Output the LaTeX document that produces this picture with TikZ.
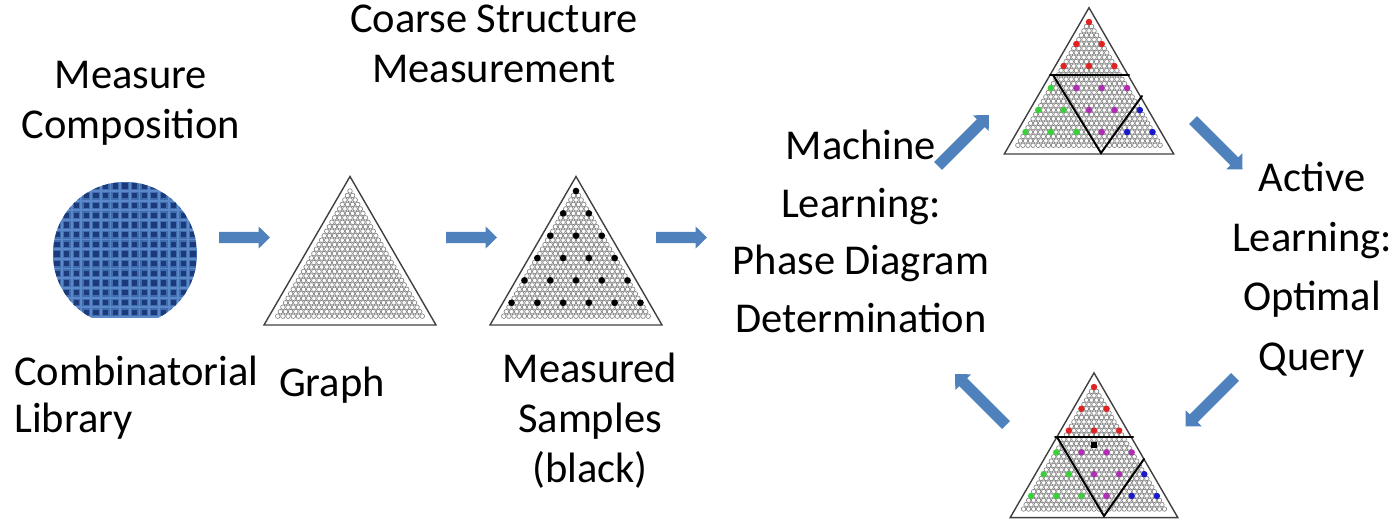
\documentclass[tikz,border=0pt]{standalone}
\usepackage{fontspec}
\setmainfont{Carlito}
\definecolor{arrowblue}{HTML}{4F81BD}
\definecolor{waferbg}{HTML}{5A88C8}
\definecolor{wafercell}{HTML}{1C3A7A}
\definecolor{waferedge}{HTML}{3F6DB0}
\definecolor{phred}{HTML}{E02424}
\definecolor{phgreen}{HTML}{3CCF3C}
\definecolor{phmag}{HTML}{B02EB4}
\definecolor{phblue}{HTML}{1A1ACC}
\tikzset{
  caption/.style={font=\fontsize{42.5}{50}\selectfont, inner sep=0pt, align=center, anchor=base},
  outline/.style={draw=black!75, line width=1.4pt, line join=miter},
  site/.style={draw=black!50, line width=0.65pt},
  boundary/.style={draw=black, line width=2pt, line cap=round},
  cell/.style={fill=wafercell, draw=waferedge, line width=1.3pt},
  % ternary composition lattice: 29 rows of sample sites inside a triangle
  pics/lattice/.style={code={
    \draw[outline] (0,-14.5) -- (86,134) -- (-86,134) -- cycle;
    \foreach \i in {0,...,28}{
      \foreach \j in {0,...,\i}{
        \draw[site] ({(\j-\i/2)*5.16},{\i*4.47}) circle[radius=2.3pt];
      }
    }
  }},
  % filled block arrow of a given length, pointing along +x
  pics/blockarrow/.style={code={
    \fill[arrowblue] (0,5.6) -- ({#1-11.5},5.6) -- ({#1-11.5},11.2) -- (#1,0)
      -- ({#1-11.5},-11.2) -- ({#1-11.5},-5.6) -- (0,-5.6) -- cycle;
  }},
}
% measured site at lattice row 5m, column 5k
\newcommand\msite[3]{\fill[#3] ({25.8*#2-12.9*#1},{22.35*#1}) circle[radius=3.3pt];}
\begin{document}
\begin{tikzpicture}[x=1pt,y=-1pt]
\useasboundingbox (0,0) rectangle (1395,519);

% combinatorial library wafer
\begin{scope}
  \clip (0,0) rectangle (1395,317);
  \clip (125,254) circle[radius=72pt];
  \fill[waferbg] (40,170) rectangle (210,330);
  \foreach \a in {-8,...,8}{
    \foreach \b in {-8,...,8}{
      \filldraw[cell] ({125+\a*9.7},{254+\b*9.7}) +(-3.3,-3.3) rectangle +(3.3,3.3);
    }
  }
\end{scope}
% captions are anchored at the baseline of their last line
\node[caption] (measure) at (131,138) {Measure\\Composition};
\node[caption, align=left, anchor=base west, font=\fontsize{42.5}{47}\selectfont] (library) at (14,432) {Combinatorial\\Library};

% empty composition graph
\pic (graph) at (350,191) {lattice};
\node[caption] (graphlbl) at (332,396) {Graph};

% coarse measurement
\pic (coarse) at (576,191) {lattice};
\begin{scope}[shift={(576,191)}]
  \foreach \m in {0,...,5}{
    \foreach \k in {0,...,\m}{
      \msite{\m}{\k}{black}
    }
  }
\end{scope}
\node[caption] (coarselbl) at (494,82) {Coarse Structure\\Measurement};
\node[caption] (measured) at (590,482) {Measured\\Samples\\(black)};

% machine learning phase map
\pic[scale=0.985] (phase) at (1089,22) {lattice};
\begin{scope}[shift={(1089,22)}, scale=0.985]
  \foreach \m/\k/\c in {0/0/phred,1/0/phred,1/1/phred,2/0/phred,2/1/phred,2/2/phred,
      3/0/phgreen,3/1/phmag,3/2/phmag,3/3/phmag,
      4/0/phgreen,4/1/phgreen,4/2/phmag,4/3/phmag,4/4/phblue,
      5/0/phgreen,5/1/phgreen,5/2/phgreen,5/3/phmag,5/4/phblue,5/5/phblue}{
    \msite{\m}{\k}{\c}
  }
\end{scope}
\draw[boundary] (1050,75) -- (1129,75);
\draw[boundary] (1053,75) -- (1101,153) -- (1142,96);
\node[caption, font=\fontsize{42.5}{57.5}\selectfont] (mllbl) at (861,332) {Machine\\Learning:\\Phase Diagram\\Determination};

% active learning query
\pic[scale=0.975] (query) at (1094,387) {lattice};
\begin{scope}[shift={(1094,387)}, scale=0.975]
  \foreach \m/\k/\c in {0/0/phred,1/0/phred,1/1/phred,2/0/phred,2/1/phred,2/2/phred,
      3/0/phgreen,3/1/phmag,3/2/phmag,3/3/phmag,
      4/0/phgreen,4/1/phgreen,4/2/phmag,4/3/phmag,4/4/phblue,
      5/0/phgreen,5/1/phgreen,5/2/phgreen,5/3/phmag,5/4/phblue,5/5/phblue}{
    \msite{\m}{\k}{\c}
  }
\end{scope}
\fill[black] (1091,442) rectangle (1097,448);
\draw[boundary] (1055,437) -- (1133,437);
\draw[boundary] (1057,437) -- (1104,516) -- (1144,459);
\node[caption, font=\fontsize{42.5}{59.5}\selectfont] (allbl) at (1312,370) {Active\\Learning:\\Optimal\\Query};

% process arrows
\pic at (219,237.5) {blockarrow=51};
\pic at (446,237.5) {blockarrow=51};
\pic at (656,237.5) {blockarrow=51};
\pic[rotate=45] at (938,166) {blockarrow=72};
\pic[rotate=-45] at (1193,120) {blockarrow=70};
\pic[rotate=-135] at (1235,377) {blockarrow=70};
\pic[rotate=135] at (1006,425) {blockarrow=72};
\end{tikzpicture}
\end{document}
